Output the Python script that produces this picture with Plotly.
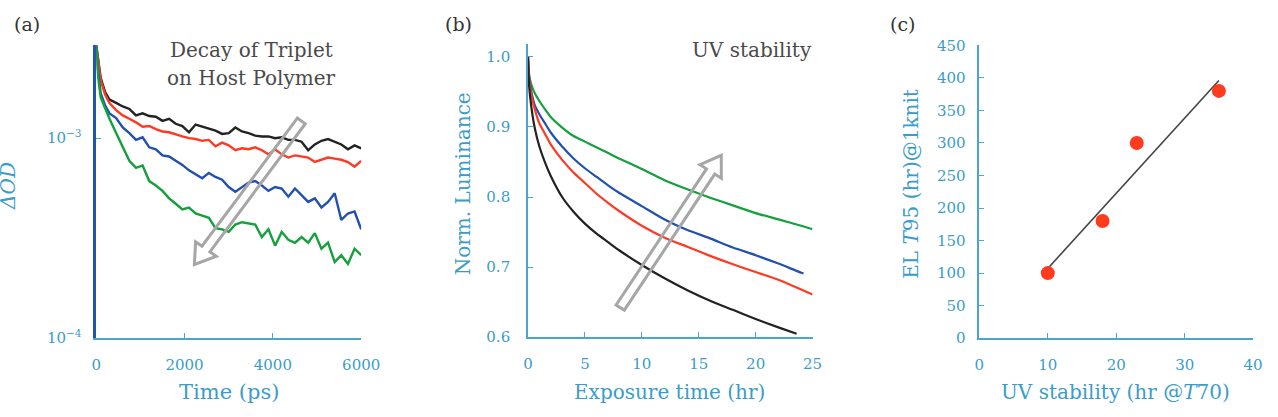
import plotly.graph_objects as go
import numpy as np

W, H = 1278, 417

# ---------------- Panel (a) data: transient absorption decay ----------------
t_ps = [0, 40, 100, 200, 300, 450, 600, 750, 900, 1050, 1200, 1350, 1500, 1650,
        1800, 1950, 2100, 2250, 2400, 2550, 2700, 2850, 3000, 3150, 3300, 3450,
        3600, 3750, 3900, 4050, 4200, 4350, 4500, 4650, 4800, 4950, 5100, 5250,
        5400, 5550, 5700, 5850, 6000]
# values in units of 1e-3 (ΔOD)
dod_black = [2.91, 2.45, 2.00, 1.70, 1.56, 1.50, 1.44, 1.40, 1.30, 1.33, 1.29, 1.28, 1.22, 1.25,
             1.18, 1.15, 1.07, 1.17, 1.14, 1.11, 1.09,
             1.05, 1.06, 1.13, 1.08, 1.06, 1.03, 1.02, 1.02, 1.00, 1.01, 0.98, 0.98, 0.96,
             0.87, 0.93, 0.97, 0.99, 0.96, 0.93, 0.88, 0.92, 0.89]
dod_red = [2.91, 2.40, 1.95, 1.65, 1.50, 1.38, 1.30, 1.25, 1.20, 1.14, 1.15, 1.11, 1.08, 1.07,
           1.04, 1.02, 1.00, 0.99, 0.97, 0.98, 0.91,
           0.95, 0.92, 0.87, 0.89, 0.88, 0.90, 0.87, 0.83, 0.88, 0.83, 0.80, 0.82, 0.81,
           0.80, 0.76, 0.78, 0.80, 0.79, 0.78, 0.76, 0.72, 0.77]
dod_blue = [2.91, 2.20, 1.68, 1.46, 1.33, 1.26, 1.13, 1.06, 0.98, 1.01, 0.90, 0.88, 0.82, 0.81,
            0.77,
            0.735, 0.69, 0.66, 0.63, 0.67, 0.64, 0.62, 0.57, 0.54, 0.57, 0.60, 0.61, 0.58,
            0.545, 0.57, 0.56, 0.51, 0.56, 0.52, 0.48, 0.50, 0.45, 0.48, 0.53, 0.39, 0.42,
            0.43, 0.35]
dod_green = [2.91, 2.05, 1.60, 1.40, 1.25, 1.06, 0.90, 0.77, 0.71, 0.73, 0.61, 0.58, 0.545, 0.50,
             0.47, 0.44, 0.45,
             0.42, 0.41, 0.40, 0.355, 0.35, 0.34, 0.37, 0.38, 0.375, 0.37, 0.32, 0.35, 0.29,
             0.34, 0.31, 0.30, 0.32, 0.30, 0.335, 0.28, 0.30, 0.24, 0.26, 0.235, 0.28, 0.26]

# ---------------- Panel (b) data: UV stability ----------------
t_hr = [0, 0.1, 0.3, 0.6, 1, 1.5, 2, 3, 4, 5, 6, 7, 8, 10, 12, 14, 16, 18, 20, 22, 24, 25]
lum_green = [1.0, 0.975, 0.96, 0.948, 0.937, 0.925, 0.914, 0.899, 0.887, 0.879, 0.871, 0.863,
             0.855, 0.84, 0.824, 0.811, 0.799, 0.788, 0.777, 0.768, 0.759, 0.754]
t_hr_blue = [0, 0.1, 0.3, 0.6, 1, 1.5, 2, 3, 4, 5, 6, 7, 8, 10, 12, 14, 16, 18, 20, 22, 24, 24.2]
lum_blue = [1.0, 0.97, 0.95, 0.931, 0.918, 0.905, 0.892, 0.872, 0.855, 0.841, 0.829, 0.817,
            0.806, 0.787, 0.768, 0.753, 0.741, 0.728, 0.717, 0.705, 0.692, 0.691]
lum_red = [1.0, 0.968, 0.945, 0.925, 0.905, 0.89, 0.875, 0.853, 0.835, 0.82, 0.805, 0.792,
           0.78, 0.759, 0.742, 0.729, 0.716, 0.704, 0.693, 0.682, 0.668, 0.661]
t_hr_black = [0, 0.1, 0.3, 0.6, 1, 1.5, 2, 3, 4, 5, 6, 7, 8, 10, 12, 14, 16, 18, 20, 22, 23.6]
lum_black = [1.0, 0.958, 0.928, 0.898, 0.872, 0.849, 0.830, 0.800, 0.779, 0.762, 0.748, 0.736,
             0.724, 0.703, 0.684, 0.667, 0.652, 0.639, 0.626, 0.614, 0.605]

# ---------------- Panel (c) data: correlation ----------------
uv_t70 = [10, 18, 23, 35]
el_t95 = [100, 180, 300, 380]

FONT = "DejaVu Serif"
BLUE_TXT = "#3a9cc8"
AX_LIGHT = "#4aa6cf"
AX_DARK = "#2256a6"
GRAY_TXT = "#4a4a4a"
ARROW_GRAY = "#a6a6a6"

C_BLACK = "#222222"
C_RED = "#ff3a24"
C_BLUE = "#2250b0"
C_GREEN = "#14a03c"


def px(x):
    return x / W


def py(y):
    return 1 - y / H


fig = go.Figure()

# panel (a) traces
for vals, col in [(dod_black, C_BLACK), (dod_red, C_RED), (dod_blue, C_BLUE), (dod_green, C_GREEN)]:
    fig.add_trace(go.Scatter(x=t_ps, y=[v * 1e-3 for v in vals], mode="lines",
                             line=dict(color=col, width=2.4), xaxis="x", yaxis="y",
                             showlegend=False, hoverinfo="skip"))

# panel (b) traces
for tx, vals, col in [(t_hr, lum_green, C_GREEN), (t_hr_blue, lum_blue, C_BLUE),
                      (t_hr, lum_red, C_RED), (t_hr_black, lum_black, C_BLACK)]:
    fig.add_trace(go.Scatter(x=tx, y=vals, mode="lines",
                             line=dict(color=col, width=2.2, shape="spline", smoothing=0.6),
                             xaxis="x2", yaxis="y2", showlegend=False, hoverinfo="skip"))

# panel (c) fit line + points
slope, intercept = np.polyfit(uv_t70, el_t95, 1)
fit_x = [min(uv_t70), max(uv_t70)]
fit_y = [slope * v + intercept for v in fit_x]
fig.add_trace(go.Scatter(x=fit_x, y=fit_y, mode="lines", line=dict(color="#444444", width=1.6),
                         xaxis="x3", yaxis="y3", showlegend=False, hoverinfo="skip"))
fig.add_trace(go.Scatter(x=uv_t70, y=el_t95, mode="markers",
                         marker=dict(color="#ff3b1f", size=14, line=dict(width=0)),
                         xaxis="x3", yaxis="y3", showlegend=False, hoverinfo="skip"))

tickfont = dict(family=FONT, size=15, color=BLUE_TXT)
common = dict(showgrid=False, zeroline=False, showline=True, ticks="inside", ticklen=5,
              tickcolor=AX_LIGHT, tickfont=tickfont, mirror=False)

fig.update_layout(
    width=W, height=H, margin=dict(l=0, r=0, t=0, b=0),
    paper_bgcolor="white", plot_bgcolor="white", showlegend=False,
    xaxis=dict(domain=[px(93), px(363)], range=[0, 6000], anchor="y",
               tickvals=[0, 2000, 4000, 6000], linecolor=AX_LIGHT, linewidth=2,
               ticklabelstandoff=12, **common),
    yaxis=dict(domain=[py(344), py(38)], type="log", range=[-4, -2.536], anchor="x",
               tickvals=[1e-4, 1e-3], ticktext=["10<sup>−4</sup>", "10<sup>−3</sup>"],
               linecolor=AX_DARK, linewidth=2.5, ticklabelstandoff=9, **common),
    xaxis2=dict(domain=[px(533), px(823)], range=[0, 25], anchor="y2",
                tickvals=[0, 5, 10, 15, 20, 25], linecolor=AX_LIGHT, linewidth=1.6,
                ticklabelstandoff=12, **common),
    yaxis2=dict(domain=[py(343), py(37)], range=[0.6, 1.0177], anchor="x2",
                tickvals=[0.6, 0.7, 0.8, 0.9, 1.0], tickformat=".1f",
                linecolor=AX_LIGHT, linewidth=1.6, ticklabelstandoff=13, **common),
    xaxis3=dict(domain=[px(993), px(1272)], range=[0, 40], anchor="y3",
                tickvals=[0, 10, 20, 30, 40], linecolor=AX_LIGHT, linewidth=1.6,
                ticklabelstandoff=12, **common),
    yaxis3=dict(domain=[py(344), py(38)], range=[0, 450], anchor="x3",
                tickvals=list(range(0, 451, 50)), linecolor=AX_LIGHT, linewidth=1.6,
                ticklabelstandoff=9, **common),
)

ann = []


def text(x, y, s, size=20, color=BLUE_TXT, angle=0):
    ann.append(dict(x=px(x), y=py(y), xref="paper", yref="paper", text=s, showarrow=False,
                    xanchor="center", yanchor="middle", textangle=angle,
                    font=dict(family=FONT, size=size, color=color)))


text(22, 16, "(a)", 19, "#333333")
text(462, 16, "(b)", 19, "#333333")
text(915, 16, "(c)", 19, "#333333")
text(251, 43, "Decay of Triplet", 20, GRAY_TXT)
text(251, 72, "on Host Polymer", 20, GRAY_TXT)
text(761, 43, "UV stability", 20, GRAY_TXT)
text(228, 400, "Time (ps)", 21)
text(677, 400, "Exposure time (hr)", 20)
text(1132, 400, "UV stability (hr @<i>T</i>70)", 20)
text(3, 185, "<i>ΔOD</i>", 20, BLUE_TXT, -90)
text(467, 183, "Norm. Luminance", 20, BLUE_TXT, -90)
text(923, 183, "EL <i>T</i>95 (hr)@1knit", 20, BLUE_TXT, -90)
fig.update_layout(annotations=ann)


def hollow_arrow(tail, tip, w=5.0, hw=13.0, hl=20.0):
    tx, ty = tail
    qx, qy = tip
    dx, dy = qx - tx, qy - ty
    L = (dx * dx + dy * dy) ** 0.5
    ux, uy = dx / L, dy / L
    nx, ny = -uy, ux
    bx, by = qx - ux * hl, qy - uy * hl
    pts = [(tx + nx * w, ty + ny * w), (bx + nx * w, by + ny * w), (bx + nx * hw, by + ny * hw),
           (qx, qy), (bx - nx * hw, by - ny * hw), (bx - nx * w, by - ny * w),
           (tx - nx * w, ty - ny * w)]
    path = "M " + " L ".join(f"{px(a):.5f},{py(b):.5f}" for a, b in pts) + " Z"
    return dict(type="path", path=path, xref="paper", yref="paper",
                line=dict(color=ARROW_GRAY, width=3), fillcolor="rgba(0,0,0,0)", layer="above")


fig.update_layout(shapes=[hollow_arrow((302, 117), (193, 267)),
                          hollow_arrow((627, 312), (730, 153))])

fig.write_html("out.html")
